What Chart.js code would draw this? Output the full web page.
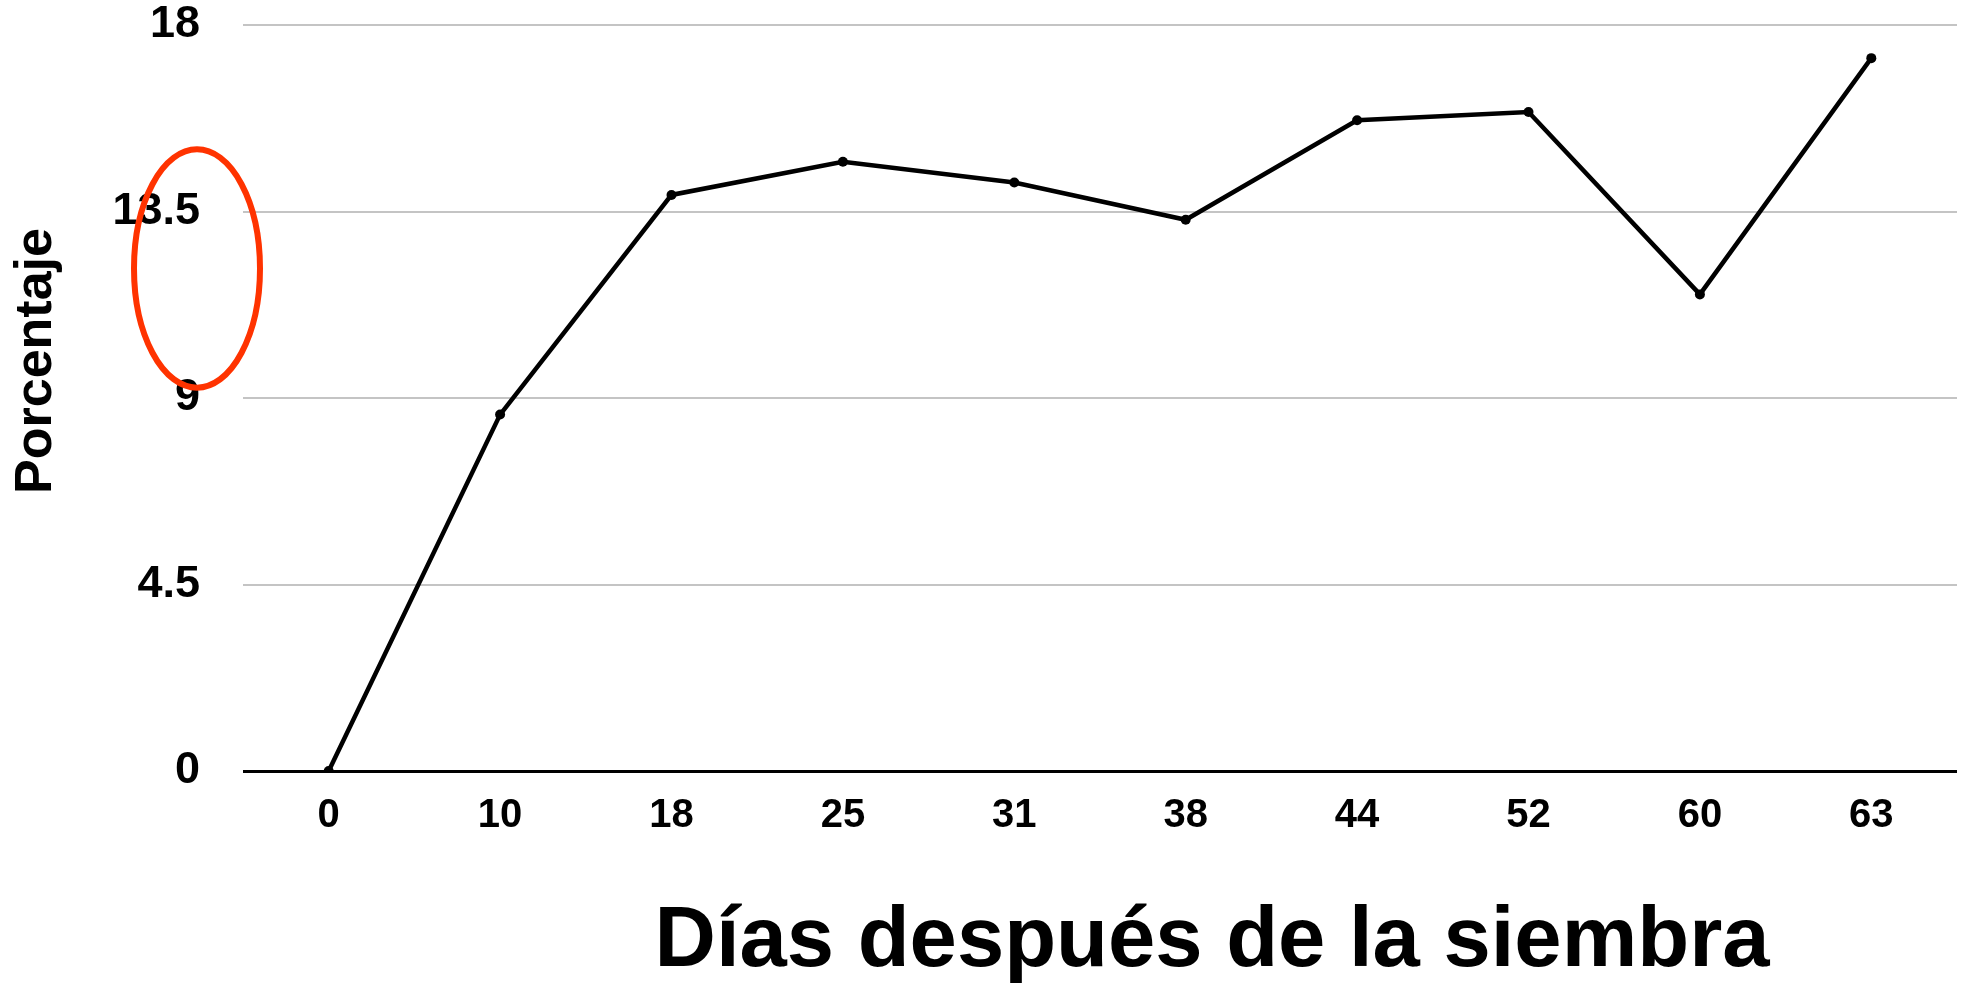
<!DOCTYPE html>
<html>
<head>
<meta charset="utf-8">
<script src="https://cdn.jsdelivr.net/npm/chart.js@4.4.1/dist/chart.umd.min.js"></script>
<style>
  html, body { margin: 0; padding: 0; background: #ffffff; }
  #wrap { width: 1969px; height: 983px; }
</style>
</head>
<body>
<div id="wrap"><canvas id="c" width="1969" height="983"></canvas></div>
<script>
// Días después de la siembra (categorías del eje X)
const dias = ['0', '10', '18', '25', '31', '38', '44', '52', '60', '63'];
// Porcentaje medido en cada fecha
const porcentaje = [0, 8.6, 13.9, 14.7, 14.2, 13.3, 15.7, 15.9, 11.5, 17.2];
// Marcas del eje Y
const yTicks = [0, 4.5, 9, 13.5, 18];

const yTitle = 'Porcentaje';
const xTitle = 'Días después de la siembra';

// Rango (en unidades del eje Y) que abarca el óvalo rojo de resaltado
const highlightRange = [9.25, 15.0];

const FONT = '"Liberation Sans", Arial, Helvetica, sans-serif';

// Títulos de ejes y óvalo de resaltado dibujados sobre el lienzo
const extras = {
  id: 'extras',
  afterDraw(chart) {
    const { ctx, chartArea, scales } = chart;
    ctx.save();
    ctx.fillStyle = '#000000';

    // Título del eje Y, girado
    ctx.save();
    ctx.font = 'bold 52px ' + FONT;
    ctx.translate(chartArea.left - 192, chartArea.top + 336);
    ctx.rotate(-Math.PI / 2);
    ctx.textAlign = 'center';
    ctx.textBaseline = 'alphabetic';
    ctx.fillText(yTitle, 0, 0);
    ctx.restore();

    // Título del eje X
    ctx.font = 'bold 85px ' + FONT;
    ctx.textAlign = 'center';
    ctx.textBaseline = 'alphabetic';
    ctx.fillText(xTitle, chartArea.left + 969, chartArea.bottom + 195);

    // Óvalo rojo junto a las etiquetas 9 – 13.5
    const yTop = scales.y.getPixelForValue(highlightRange[1]);
    const yBot = scales.y.getPixelForValue(highlightRange[0]);
    ctx.beginPath();
    ctx.ellipse(chartArea.left - 46, (yTop + yBot) / 2, 63, (yBot - yTop) / 2, 0, 0, Math.PI * 2);
    ctx.strokeStyle = '#ff3300';
    ctx.lineWidth = 6;
    ctx.stroke();
    ctx.restore();
  }
};

new Chart(document.getElementById('c'), {
  type: 'line',
  data: {
    labels: dias,
    datasets: [{
      data: porcentaje,
      borderColor: '#000000',
      backgroundColor: '#000000',
      borderWidth: 4.5,
      pointRadius: 5,
      pointBackgroundColor: '#000000',
      pointBorderWidth: 0,
      tension: 0,
      fill: false
    }]
  },
  options: {
    responsive: false,
    animation: false,
    devicePixelRatio: 1,
    layout: { padding: { top: 25, right: 12, bottom: 0, left: 0 } },
    plugins: { legend: { display: false }, tooltip: { enabled: false } },
    scales: {
      x: {
        type: 'category',
        offset: true,
        grid: { display: false, drawTicks: false },
        border: { display: false },
        ticks: {
          color: '#000000',
          font: { family: FONT, size: 40, weight: 'bold' },
          padding: 21,
          maxRotation: 0,
          autoSkip: false
        },
        afterFit(scale) {
          scale.height = 212;
          scale.paddingLeft = 0;
          scale.paddingRight = 0;
        }
      },
      y: {
        min: 0,
        max: 18,
        afterBuildTicks(scale) { scale.ticks = yTicks.map(v => ({ value: v })); },
        grid: {
          drawTicks: false,
          color: c => (c.tick && c.tick.value === 0 ? '#000000' : '#c4c4c4'),
          lineWidth: c => (c.tick && c.tick.value === 0 ? 3 : 2)
        },
        border: { display: false },
        ticks: {
          color: '#000000',
          font: { family: FONT, size: 45, weight: 'bold' },
          padding: 43
        },
        afterFit(scale) {
          scale.width = 243;
          scale.paddingTop = 0;
          scale.paddingBottom = 0;
        }
      }
    }
  },
  plugins: [extras]
});
</script>
</body>
</html>
